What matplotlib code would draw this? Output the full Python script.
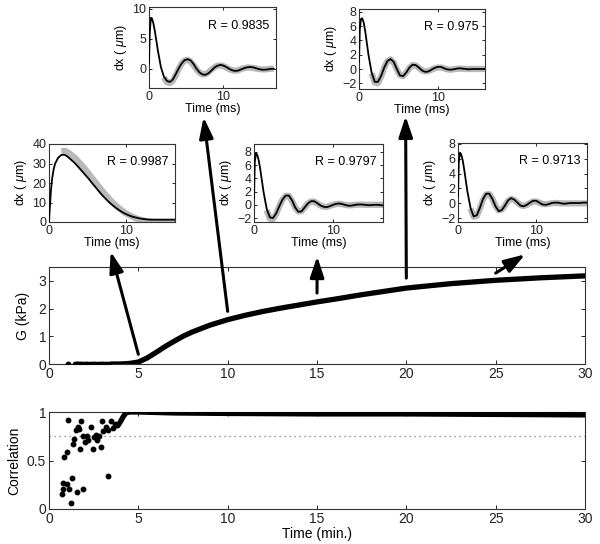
import numpy as np
import matplotlib
matplotlib.use("Agg")
import matplotlib.pyplot as plt

plt.rcParams['font.family'] = ['Liberation Sans', 'DejaVu Sans']
plt.rcParams['mathtext.fontset'] = 'custom'
plt.rcParams['mathtext.rm'] = 'Liberation Sans'
plt.rcParams['mathtext.it'] = 'Liberation Sans:italic'

# ---------------- data ----------------
# main G(t) curve (minutes, kPa)
g_time = [3.5, 4.0, 4.5, 5.0, 5.5, 6.0, 6.5, 7.0, 7.5, 8.0, 9.0, 10.0, 11.0, 12.0,
          13.0, 14.0, 15.0, 16.0, 17.5, 20.0, 22.5, 25.0, 27.5, 30.0]
g_value = [0.0, 0.0, 0.02, 0.07, 0.22, 0.42, 0.63, 0.82, 1.0, 1.15, 1.4, 1.6, 1.76, 1.9,
           2.02, 2.13, 2.24, 2.34, 2.5, 2.74, 2.9, 3.02, 3.11, 3.18]
g_dot_time = [1.07, 1.45, 1.55, 1.65, 1.75, 1.85, 2.0, 2.15, 2.3, 2.45, 2.6, 2.75,
              2.9, 3.05, 3.2, 3.35]
g_dot_value = [0.0] * len(g_dot_time)

# correlation
corr_dot_time = [1.08, 1.79, 2.95, 0.86, 0.99, 1.40, 1.33, 1.51, 1.60, 1.70, 1.73, 1.92,
                 2.01, 2.11, 2.20, 2.33, 2.44, 2.54, 2.63, 2.70, 2.80, 2.89, 3.04, 3.19,
                 3.32, 3.47, 3.60, 3.69, 3.82, 3.30, 0.71, 0.80, 0.80, 0.99, 1.14, 1.27,
                 1.21, 1.55, 1.92]
corr_dot_value = [0.92, 0.91, 0.91, 0.54, 0.59, 0.72, 0.67, 0.81, 0.85, 0.82, 0.62, 0.75,
                  0.69, 0.75, 0.71, 0.85, 0.62, 0.74, 0.76, 0.71, 0.75, 0.64, 0.80, 0.85,
                  0.81, 0.91, 0.83, 0.88, 0.87, 0.34, 0.15, 0.21, 0.27, 0.26, 0.21, 0.32,
                  0.06, 0.18, 0.21]
corr_time = [3.85, 4.0, 4.15, 4.3, 4.5, 5.0, 7.0, 10.0, 15.0, 20.0, 25.0, 30.0]
corr_value = [0.86, 0.9, 0.95, 0.99, 1.0, 1.0, 0.99, 0.985, 0.98, 0.98, 0.975, 0.97]
corr_threshold = 0.75

# inset traces (ms, micrometres)
nan = np.nan
ms = [0, 0.1, 0.25, 0.4, 0.6, 0.8, 1.2, 1.6, 2.0, 2.4, 2.8, 3.2, 3.6, 4.0, 4.4, 4.8,
      5.2, 5.6, 6.0, 6.4, 6.8, 7.2, 7.6, 8.0, 8.4, 8.8, 9.2, 9.6, 10.0, 10.4, 10.8,
      11.2, 11.6, 12.0, 12.4, 12.8, 13.2, 13.6, 14.0, 14.4, 14.8, 15.2, 15.6, 16.0,
      16.4, 16.8]

dx1 = [0, 7, 16, 22, 27, 30, 33, 34.4, 34.5, 33.6, 32.2, 30.8, 29.2, 27.4, 25.6, 23.8,
       22, 20, 18.1, 16.2, 14.3, 12.6, 11, 9.5, 8.2, 7, 5.9, 4.9, 4.1, 3.4, 2.8,
       2.4, 2.0, 1.7, 1.5, 1.3, 1.2, 1.2, 1.2, 1.2, 1.2, 1.2, 1.2, 1.2, 1.2, 1.2]
fit1 = [nan, nan, nan, nan, nan, nan, nan, 36.2, 36.5, 35.8, 34.8, 33.5, 32, 30.3, 28.5, 26.6,
        24.6, 22.6, 20.6, 18.6, 16.6, 14.7, 12.9, 11.2, 9.6, 8.1, 6.8, 5.6, 4.5, 3.6, 2.8,
        2.1, 1.5, 1.0, 0.7, 0.4, 0.2, 0.1, 0, 0, 0, 0, 0, 0, 0, 0]

dx2 = [1.0, 6.0, 8.5, 8.4, 7.5, 6.2, 3.0, 0.3, -1.3, -2.0, -2.2, -1.8, -0.9, 0.1, 0.9, 1.45,
       1.6, 1.4, 0.8, 0.0, -0.6, -0.95, -1.0, -0.75, -0.3, 0.2, 0.5, 0.65, 0.55, 0.3, 0.0,
       -0.25, -0.35, -0.3, -0.1, 0.1, 0.25, 0.3, 0.25, 0.1, -0.05, -0.15, -0.15, -0.1, 0.0, 0.0]
fit2 = [nan, nan, nan, nan, nan, nan, nan, nan, -1.4, -2.2, -2.4, -2.0, -1.1, 0.0, 0.9, 1.4,
        1.5, 1.2, 0.6, -0.1, -0.65, -0.95, -0.9, -0.6, -0.15, 0.25, 0.5, 0.55, 0.45, 0.2, -0.05,
        -0.25, -0.3, -0.25, -0.05, 0.1, 0.2, 0.2, 0.15, 0.05, -0.05, -0.1, -0.1, -0.05, 0.0, 0.0]

dx3 = [1.0, 5.5, 7.0, 7.1, 6.5, 5.2, 2.0, -0.5, -1.8, -1.8, -1.0, 0.2, 1.1, 1.4, 1.0, 0.0,
       -0.9, -1.0, -0.5, 0.2, 0.6, 0.55, 0.2, -0.2, -0.4, -0.35, -0.1, 0.15, 0.3, 0.3, 0.1,
       -0.05, -0.1, -0.05, 0.05, 0.1, 0.05, 0.0, -0.05, 0.0, 0.0, 0.0, 0.0, 0.0, 0.0, 0.0]
fit3 = [nan, nan, nan, nan, nan, nan, nan, -0.6, -1.9, -2.0, -1.1, 0.2, 1.1, 1.35, 0.9, -0.05,
        -0.85, -1.0, -0.5, 0.15, 0.55, 0.5, 0.15, -0.2, -0.35, -0.3, -0.1, 0.1, 0.2, 0.2, 0.1,
        -0.05, -0.1, -0.05, 0.03, 0.05, 0.03, 0.0, 0.0, 0.0, 0.0, 0.0, 0.0, 0.0, 0.0, 0.0]

dx4 = [1.0, 6.5, 7.8, 7.6, 6.7, 5.3, 2.0, -0.6, -1.9, -2.0, -1.3, -0.2, 0.8, 1.4, 1.4, 0.7,
       -0.4, -1.05, -1.0, -0.4, 0.2, 0.55, 0.55, 0.25, -0.1, -0.3, -0.35, -0.2, 0.0, 0.15, 0.2,
       0.1, -0.05, -0.15, -0.1, 0.0, 0.05, 0.05, 0.0, -0.05, -0.05, 0.0, 0.0, -0.05, -0.1, -0.1]
fit4 = [nan, nan, nan, nan, nan, nan, nan, -0.8, -2.1, -2.2, -1.4, -0.2, 0.8, 1.35, 1.35, 0.6,
        -0.4, -1.0, -0.95, -0.4, 0.2, 0.5, 0.5, 0.2, -0.1, -0.3, -0.3, -0.15, 0.0, 0.12, 0.15,
        0.08, -0.03, -0.08, -0.06, 0.0, 0.03, 0.03, 0.0, 0.0, 0.0, 0.0, 0.0, 0.0, 0.0, 0.0]

dx5 = [1.0, 5.5, 6.8, 6.6, 5.8, 4.5, 1.6, -0.6, -1.75, -1.6, -0.6, 0.6, 1.3, 1.3, 0.6, -0.4,
       -1.05, -0.9, -0.3, 0.4, 0.7, 0.5, 0.1, -0.3, -0.4, -0.2, 0.1, 0.35, 0.35, 0.1, -0.15,
       -0.2, -0.1, 0.05, 0.1, 0.1, 0.0, -0.05, 0.0, 0.05, 0.05, 0.05, 0.05, 0.1, 0.1, 0.1]
fit5 = [nan, nan, nan, nan, nan, nan, nan, -0.7, -1.8, -1.7, -0.7, 0.5, 1.2, 1.25, 0.6, -0.35,
        -0.95, -0.85, -0.3, 0.35, 0.6, 0.45, 0.1, -0.25, -0.35, -0.2, 0.05, 0.25, 0.25, 0.1, -0.08,
        -0.12, -0.06, 0.02, 0.05, 0.04, 0.0, 0.0, 0.0, 0.0, 0.0, 0.0, 0.0, 0.0, 0.0, 0.0]

r_values = ['0.9987', '0.9835', '0.975', '0.9797', '0.9713']
arrow_times = [5, 10, 15, 20, 25]

# ---------------- figure ----------------
W, H = 600, 544
fig = plt.figure(figsize=(W / 100, H / 100), dpi=100)


def px_rect(left, top, right, bottom):
    return [left / W, 1 - bottom / H, (right - left) / W, (bottom - top) / H]


def style(ax, fs):
    ax.tick_params(direction='in', top=True, right=True, labelsize=fs, length=3,
                   width=0.7, pad=2, colors='#222222')
    for s in ax.spines.values():
        s.set_linewidth(0.8)
        s.set_color('#333333')


# main G axes
axg = fig.add_axes(px_rect(49, 267, 585, 364))
axg.plot(g_time, g_value, color='k', lw=3.8, solid_capstyle='round', zorder=3)
axg.plot(g_dot_time, g_dot_value, 'o', color='k', ms=3.2, zorder=3)
axg.set_xlim(0, 30)
axg.set_ylim(0, 3.5)
axg.set_xticks([0, 5, 10, 15, 20, 25, 30])
axg.set_yticks([0, 1, 2, 3])
axg.set_ylabel('G (kPa)', fontsize=10, labelpad=6)
style(axg, 10)

# correlation axes
axc = fig.add_axes(px_rect(49, 412, 585, 509))
axc.plot(corr_time, corr_value, color='k', lw=3.8, solid_capstyle='round', zorder=3)
axc.plot(corr_dot_time, corr_dot_value, 'o', color='k', ms=3.2, zorder=3)
axc.axhline(corr_threshold, color='#777777', lw=0.9, ls=(0, (1, 3)))
axc.set_xlim(0, 30)
axc.set_ylim(0, 1)
axc.set_xticks([0, 5, 10, 15, 20, 25, 30])
axc.set_yticks([0, 0.5, 1])
axc.set_yticklabels(['0', '0.5', '1'])
axc.set_xlabel('Time (min.)', fontsize=10, labelpad=1)
axc.set_ylabel('Correlation', fontsize=10, labelpad=4)
style(axc, 10)

# insets
inset_specs = [
    ((49, 144, 175, 222), dx1, fit1, (0, 16.4), (0, 40), [0, 10, 20, 30, 40]),
    ((149, 7, 276, 88), dx2, fit2, (0, 17.1), (-3.2, 10.3), [0, 5, 10]),
    ((359, 9, 485, 89), dx3, fit3, (0, 16.0), (-2.8, 8.4), [-2, 0, 2, 4, 6, 8]),
    ((254, 144, 383, 222), dx4, fit4, (0, 16.3), (-2.6, 9.2), [-2, 0, 2, 4, 6, 8]),
    ((458, 143, 587, 222), dx5, fit5, (0, 16.5), (-2.5, 8.1), [-2, 0, 2, 4, 6, 8]),
]
insets = []
for (rect, dx, fit, xl, yl, yt), r in zip(inset_specs, r_values):
    ax = fig.add_axes(px_rect(*rect))
    ax.plot(ms, fit, color='#b8b8b8', lw=4.5, solid_capstyle='butt', zorder=2)
    ax.plot(ms, dx, color='k', lw=1.3, zorder=3)
    ax.set_xlim(*xl)
    ax.set_ylim(*yl)
    ax.set_xticks([0, 10])
    ax.set_yticks(yt)
    ax.set_xlabel('Time (ms)', fontsize=9, labelpad=0)
    ax.set_ylabel(r'dx ( $\mu$m)', fontsize=9, labelpad=2)
    ax.text(0.95, 0.77, 'R = ' + r, transform=ax.transAxes, ha='right', va='center',
            fontsize=9)
    style(ax, 9)
    ax.tick_params(length=2.5)
    insets.append(ax)

# arrows from G curve to insets: (tail G value, target inset, head in inset axes fraction)
arrow_tail_g = [0.35, 1.9, 2.56, 3.1, 3.28]
arrow_targets = [
    (insets[0], (0.49, -0.38)),
    (insets[1], (0.43, -0.36)),
    (insets[3], (0.49, -0.44)),
    (insets[2], (0.37, -0.34)),
    (insets[4], (0.52, -0.41)),
]
for t, g, (ax, head) in zip(arrow_times, arrow_tail_g, arrow_targets):
    ann = axg.annotate('', xy=head, xycoords=ax.transAxes, xytext=(t, g),
                       textcoords='data',
                       arrowprops=dict(arrowstyle='-|>,head_length=0.9,head_width=0.3',
                                       lw=2.2, color='k', shrinkA=0, shrinkB=0,
                                       mutation_scale=14))
    ann.set_zorder(10)
    ann.set_clip_on(False)

fig.savefig('out.png', dpi=100)
